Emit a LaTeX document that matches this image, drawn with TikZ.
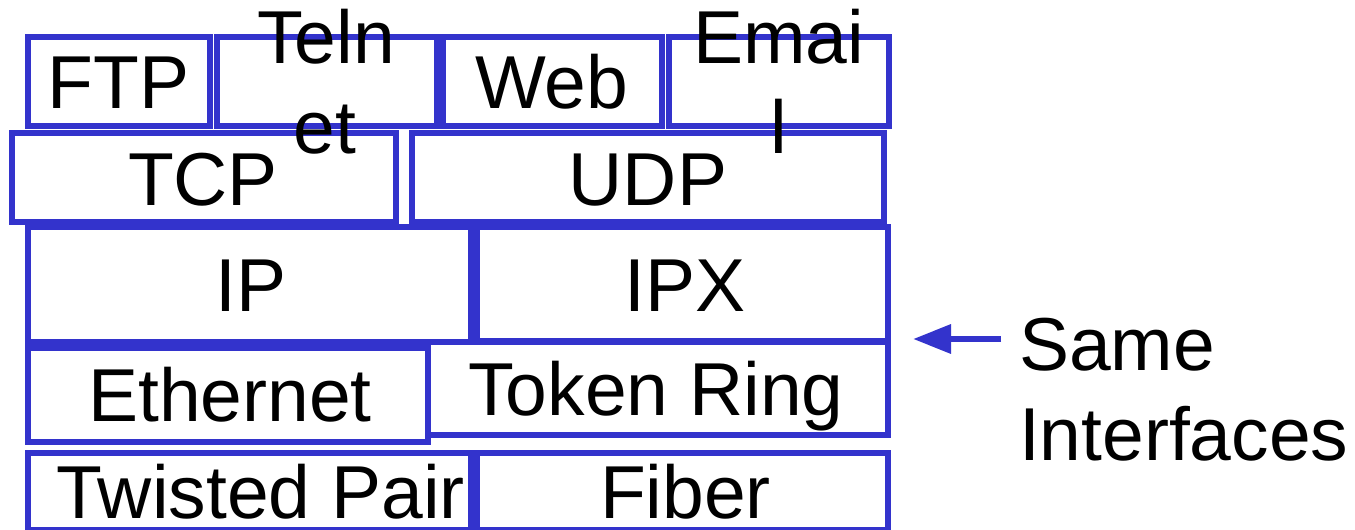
\documentclass[tikz,border=0pt]{standalone}
\usepackage{fontspec}
\setmainfont{Liberation Sans}
\usetikzlibrary{arrows.meta}
\definecolor{boxblue}{RGB}{51,51,204}
\tikzset{
  box/.style={draw=boxblue, line width=6pt, rectangle, inner sep=0pt, outer sep=0pt},
  lbl/.style={inner sep=0pt, outer sep=0pt, anchor=base, text=black, font=\fontsize{75}{90}\selectfont},
  lblw/.style={lbl, anchor=base west},
  conn/.style={draw=boxblue, line width=6.5pt, -{Triangle[length=38pt,width=28pt]}}
}
\begin{document}
\begin{tikzpicture}[x=1pt,y=-1pt]
\clip (0,0) rectangle (1355,530);
\fill[white] (0,0) rectangle (1355,530);
% boxes
\node[box, minimum width=182pt, minimum height=89pt] (ftp) at (119,81.5) {};
\node[box, minimum width=220.5pt, minimum height=89pt] (telnet) at (326.75,81.5) {};
\node[box, minimum width=219.5pt, minimum height=89pt] (web) at (552.25,81.5) {};
\node[box, minimum width=219.7pt, minimum height=89pt] (email) at (778.85,81.5) {};
\node[box, minimum width=384pt, minimum height=89pt] (tcp) at (204,177.5) {};
\node[box, minimum width=472pt, minimum height=89pt] (udp) at (648,177.5) {};
\node[box, minimum width=443pt, minimum height=115pt] (ip) at (249.5,284.5) {};
\node[box, minimum width=411pt, minimum height=114pt] (ipx) at (682.5,284) {};
\node[box, minimum width=460pt, minimum height=93pt] (token) at (658,388.5) {};
\node[box, minimum width=400pt, minimum height=94pt] (eth) at (228,395) {};
\node[box, minimum width=443pt, minimum height=77pt] (tp) at (249.5,491.5) {};
\node[box, minimum width=411pt, minimum height=77pt] (fiber) at (682.5,491.5) {};
% labels
\node[lbl] (ftpT) at (118.5,108) {FTP};
\node[lbl] (telT1) at (326,63) {Teln};
\node[lbl] (telT2) at (325,153) {et};
\node[lbl] (webT) at (551.5,108) {Web};
\node[lbl] (emT1) at (778.5,63) {Emai};
\node[lbl] (emT2) at (778.5,153) {l};
\node[lbl] (tcpT) at (203,205) {TCP};
\node[lbl] (udpT) at (648,205) {UDP};
\node[lbl] (ipT) at (251,311.7) {IP};
\node[lbl] (ipxT) at (685,311.7) {IPX};
\node[lbl] (ethT) at (230,421.7) {Ethernet};
\node[lbl] (tokT) at (656,415) {Token Ring};
\node[lbl] (tpT) at (260.5,518) {Twisted Pair};
\node[lbl] (fibT) at (685.5,518) {Fiber};
\node[lblw] (same) at (1019,370) {Same};
\node[lblw] (intf) at (1019,460) {Interfaces};
% arrow
\coordinate (arrS) at (1001,339);
\coordinate (arrT) at (913,339);
\draw[conn] (arrS) -- (arrT);
\end{tikzpicture}
\end{document}
